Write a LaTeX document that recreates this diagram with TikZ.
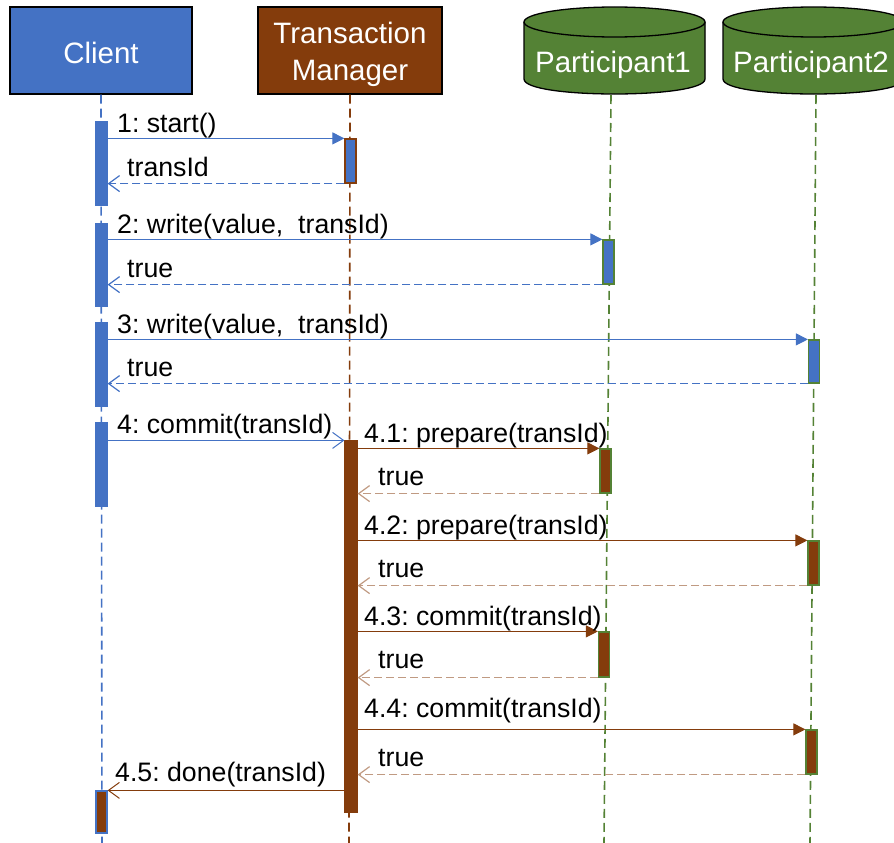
\documentclass[tikz,border=0pt]{standalone}
\usepackage{fontspec}
\setmainfont{Liberation Sans}
\usetikzlibrary{arrows.meta}
\definecolor{cblue}{HTML}{4472C4}
\definecolor{cbrown}{HTML}{843C0C}
\definecolor{cgreen}{HTML}{548235}
\definecolor{cbrownlt}{HTML}{C09A82}
\frenchspacing
\tikzset{
  head/.style={draw=black, line width=1.3pt, minimum width=182pt, minimum height=87pt,
    inner sep=0pt},
  headtext/.style={inner sep=0pt, text=white, font=\fontsize{29.5}{37}\selectfont, align=center},
  cyl/.style={fill=cgreen, draw=black, line width=1.3pt},
  life/.style={dash pattern=on 9pt off 5pt, line width=1.6pt},
  bar/.style={minimum width=11pt, inner sep=0pt, line width=1.2pt},
  call/.style={line width=1pt, -{Triangle[length=12pt,width=12pt]}},
  async/.style={line width=1pt, -{Straight Barb[length=11pt,width=16pt]}},
  reply/.style={line width=1.2pt, dash pattern=on 8pt off 4pt, -{Straight Barb[length=11pt,width=16pt]}},
  lbl/.style={anchor=base west, inner sep=0pt, font=\fontsize{26.7}{30}\selectfont},
}
\begin{document}
\begin{tikzpicture}[x=1pt, y=-1pt]
\useasboundingbox (0,0) rectangle (894,843);

% --- participant heads ---
\node[head, fill=cblue] (client) at (101,50.5) {};
\node[headtext] (clienttext) at (101,53) {Client};
\node[head, fill=cbrown, minimum width=184pt] (tm) at (350,50.5) {};
\node[headtext] (tmtext) at (350,54.5) {Transaction\\Manager};

% database cylinders
\fill[cgreen] (524,22) -- (524,79) .. controls (524,99) and (705,99) .. (705,79) -- (705,22) -- cycle;
\draw[cyl] (524,22) -- (524,79) .. controls (524,99) and (705,99) .. (705,79) -- (705,22);
\draw[cyl] (614.5,22) ellipse [x radius=90.5pt, y radius=15pt];
\node[headtext] (p1) at (613,64.5) {Participant1};

\fill[cgreen] (723,22) -- (723,79) .. controls (723,99) and (904,99) .. (904,79) -- (904,22) -- cycle;
\draw[cyl] (723,22) -- (723,79) .. controls (723,99) and (904,99) .. (904,79) -- (904,22);
\draw[cyl] (813.5,22) ellipse [x radius=90.5pt, y radius=15pt];
\node[headtext] (p2) at (811,64.5) {Participant2};

% --- lifelines ---
\coordinate (p1top) at (611,95);
\coordinate (p2top) at (816,95);
\coordinate (cend) at (102,843);
\coordinate (tend) at (349,843);
\coordinate (p1end) at (604,843);
\coordinate (p2end) at (810,843);
\draw[life, cblue] (client.south) -- (cend);
\draw[life, cbrown] (tm.south) -- (tend);
\draw[life, cgreen] (p1top) -- (p1end);
\draw[life, cgreen] (p2top) -- (p2end);

% --- activation bars ---
\node[bar, fill=cblue, draw=cblue, minimum height=83pt] (c1) at (101.5,163.5) {};
\node[bar, fill=cblue, draw=cblue, minimum height=82pt] (c2) at (101.5,265) {};
\node[bar, fill=cblue, draw=cblue, minimum height=83pt] (c3) at (101.5,364.5) {};
\node[bar, fill=cblue, draw=cblue, minimum height=83pt] (c4) at (101.5,464.5) {};
\node[bar, fill=cbrown, draw=cblue, minimum height=42pt] (c5) at (101.5,812) {};

\node[bar, fill=cblue, draw=cbrown, minimum height=44pt] (t1) at (350.5,161) {};
\node[bar, fill=cbrown, draw=cbrown, minimum width=12pt, minimum height=371pt] (T) at (351,626.5) {};

\node[bar, fill=cblue, draw=cgreen, minimum height=44pt] (p1a) at (608.5,262) {};
\node[bar, fill=cbrown, draw=cgreen, minimum height=44pt] (p1b) at (605.5,471) {};
\node[bar, fill=cbrown, draw=cgreen, minimum height=45pt] (p1c) at (604,654.5) {};

\node[bar, fill=cblue, draw=cgreen, minimum height=43pt] (p2a) at (814,361.5) {};
\node[bar, fill=cbrown, draw=cgreen, minimum height=44pt] (p2b) at (813.5,563) {};
\node[bar, fill=cbrown, draw=cgreen, minimum height=44pt] (p2c) at (811.5,752) {};

% --- messages ---
\draw[call, cblue] (c1.east |- t1.north) -- (t1.north west);
\draw[reply, cblue] (t1.south west) -- (c1.east |- t1.south);
\draw[call, cblue] (c2.east |- p1a.north) -- (p1a.north west);
\draw[reply, cblue] (p1a.south west) -- (c2.east |- p1a.south);
\draw[call, cblue] (c3.east |- p2a.north) -- (p2a.north west);
\draw[reply, cblue] (p2a.south west) -- (c3.east |- p2a.south);
\draw[async, cblue] (c4.east |- T.north) -- (T.north west);

\draw[call, cbrown] (T.east |- p1b.north) -- (p1b.north west);
\draw[reply, cbrownlt] (p1b.south west) -- (T.east |- p1b.south);
\draw[call, cbrown] (T.east |- p2b.north) -- (p2b.north west);
\draw[reply, cbrownlt] (p2b.south west) -- (T.east |- p2b.south);
\draw[call, cbrown] (T.east |- p1c.north) -- (p1c.north west);
\draw[reply, cbrownlt] (p1c.south west) -- (T.east |- p1c.south);
\draw[call, cbrown] (T.east |- p2c.north) -- (p2c.north west);
\draw[reply, cbrownlt] (p2c.south west) -- (T.east |- p2c.south);
\draw[async, cbrown] (T.west |- c5.north) -- (c5.north east);

% --- message labels ---
\node[lbl] (l1) at (117,132) {1: start()};
\node[lbl] (r1) at (127,176) {transId};
\node[lbl] (l2) at (117,233) {2: write(value,\ \ transId)};
\node[lbl] (r2) at (127,277) {true};
\node[lbl] (l3) at (117,333) {3: write(value,\ \ transId)};
\node[lbl] (r3) at (127,376) {true};
\node[lbl] (l4) at (117,433) {4: commit(transId)};
\node[lbl] (l41) at (364,442) {4.1: prepare(transId)};
\node[lbl] (r41) at (378,485) {true};
\node[lbl] (l42) at (364,534) {4.2: prepare(transId)};
\node[lbl] (r42) at (378,577) {true};
\node[lbl] (l43) at (364,625) {4.3: commit(transId)};
\node[lbl] (r43) at (378,668) {true};
\node[lbl] (l44) at (364,717) {4.4: commit(transId)};
\node[lbl] (r44) at (378,766) {true};
\node[lbl] (l45) at (115,781) {4.5: done(transId)};
\end{tikzpicture}
\end{document}
